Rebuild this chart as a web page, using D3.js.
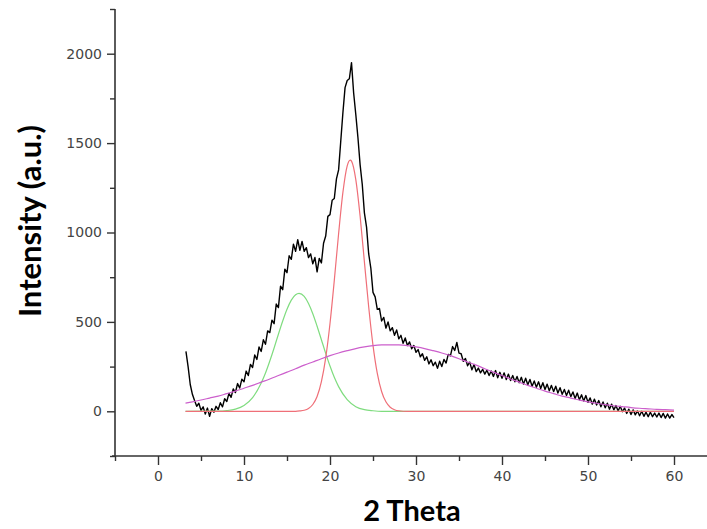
<!DOCTYPE html>
<html>
<head>
<meta charset="utf-8">
<script src="https://cdn.jsdelivr.net/npm/d3@7"></script>
<style>
  html, body { margin: 0; padding: 0; background: #fff; }
  svg { display: block; }
  .tick text { font-family: "DejaVu Sans", sans-serif; font-size: 14px; fill: #444; }
  .axis-title { font-family: Lato, "Open Sans", sans-serif; font-weight: bold; fill: #000; }
</style>
</head>
<body>
<div id="chart"></div>
<script>
/**
 * Constants
 */
const width = 707, height = 529;

// measured 2-theta grid of the pattern
const twoThetaStart = 3.25, twoThetaStep = 0.25;

// raw intensity (0.25 deg steps, noise included)
const intensity = [
  335, 250, 150, 95,   60, 28, 45, 5,   25, -15, 18, -28,   15, -5, 28, 10,
  48, 25, 70, 55,   100, 78, 125, 105,   155, 130, 180, 165,   225, 200, 262, 245,
  315, 290, 360, 335,   400, 375, 450, 440,   510, 490, 600, 580,   700, 680, 795, 775,
  870, 850, 935, 895,   960, 900, 950, 895,   915, 860, 880, 825,   860, 780, 855, 830,
  940, 980, 1090, 1100,   1180, 1190, 1300, 1350,   1510, 1670, 1810, 1850,
  1860, 1950, 1780, 1660,   1530, 1380, 1270, 1110,   1030, 880, 800, 665,
  640, 570, 575, 505,   525, 465, 500, 450,   468, 425, 455, 405,   425, 380, 410, 368,
  388, 350, 368, 330,   345, 305, 322, 285,   305, 265, 288, 255,   275, 240, 280, 250,
  290, 270, 318, 310,   362, 340, 385, 325,   322, 280, 295, 255,   275, 232, 262, 222,
  242, 215, 235, 208,   230, 200, 225, 195,   228, 188, 218, 185,   215, 178, 208, 172,
  200, 165, 195, 160,   190, 152, 185, 148,   178, 140, 170, 135,   165, 128, 160, 122,
  152, 115, 145, 110,   140, 102, 132, 95,   122, 88, 118, 82,   108, 72, 102, 65,
  92, 58, 88, 50,   75, 40, 68, 35,   60, 25, 52, 20,   45, 12, 40, 8,
  32, 2, 28, -2,   18, -12, 12, -18,   8, -20, 2, -25,   0, -28, -5, -30,
  -5, -30, -10, -32,   -10, -35, -12, -38,   -15, -38, -18, -35
];

// fitted peak 1 (green)
const greenX = [3.2, 7, 8, 9, 10, 11, 12, 12.5, 13, 13.5, 14, 14.5, 15, 15.5, 16, 16.4,
  17, 17.5, 18, 18.5, 19, 19.5, 20, 20.5, 21, 22, 23, 24, 25, 26, 60];
const greenY = [0, 1, 4, 12, 32, 76, 158, 214, 281, 354, 431, 505, 571, 622, 652, 660,
  643, 603, 546, 476, 400, 324, 253, 190, 138, 65, 26, 9, 3, 0, 0];

// fitted peak 2 (red)
const redX = [3.2, 16, 16.5, 17, 17.5, 18, 18.5, 19, 19.5, 20, 20.5, 21, 21.5, 22, 22.35,
  22.5, 23, 23.5, 24, 24.5, 25, 25.5, 26, 26.5, 27, 27.5, 28, 29, 60];
const redY = [0, 0, 2, 6, 16, 38, 83, 166, 299, 491, 732, 993, 1224, 1373, 1405,
  1399, 1296, 1092, 836, 583, 369, 212, 111, 53, 23, 9, 3, 0, 0];

// fitted amorphous halo (magenta)
const haloX = [3.2, 4, 5, 6, 7, 8, 9, 10, 11, 12, 13, 14, 15, 16, 17, 18, 19, 20, 21, 22,
  23, 24, 25, 26, 27, 28, 29, 30, 31, 32, 33, 34, 35, 36, 37, 38, 39, 40, 41, 42,
  43, 44, 45, 46, 47, 48, 49, 50, 51, 52, 53, 54, 55, 56, 57, 58, 59, 60];
const haloY = [46, 53, 63, 74, 85, 99, 113, 129, 145, 163, 181, 200, 219, 238, 258, 276, 294, 311, 326, 339,
  351, 360, 367, 371, 372, 371, 367, 360, 351, 339, 326, 311, 294, 276, 258, 238, 219, 200, 181, 163,
  145, 129, 113, 99, 85, 74, 63, 53, 45, 37, 31, 26, 21, 17, 14, 11, 9, 7];

// axis ticks
const xTicks = [0, 10, 20, 30, 40, 50, 60];
const xMinorTicks = [-5, 5, 15, 25, 35, 45, 55, 65];
const yTicks = [0, 500, 1000, 1500, 2000];
const yMinorTicks = [-250, 250, 750, 1250, 1750, 2250];

const pattern = intensity.map((v, i) => ({ x: twoThetaStart + i * twoThetaStep, y: v }));
const zipXY = (xs, ys) => xs.map((x, i) => ({ x: x, y: ys[i] }));

/**
 * Scales
 */
const xScale = d3.scaleLinear().domain([-5, 65]).range([115, 717]);
const yScale = d3.scaleLinear().domain([-250, 2250]).range([456, 9]);

const svg = d3.select("#chart")
  .append("svg")
  .attr("width", width)
  .attr("height", height);

// curves
const rawLine = d3.line()
  .x(d => xScale(d.x))
  .y(d => yScale(d.y))
  .curve(d3.curveLinear);

const fitLine = d3.line()
  .x(d => xScale(d.x))
  .y(d => yScale(d.y))
  .curve(d3.curveMonotoneX);

svg.append("path")
  .datum(pattern)
  .attr("fill", "none")
  .attr("stroke", "#000")
  .attr("stroke-width", 1.4)
  .attr("stroke-linejoin", "round")
  .attr("d", rawLine);

svg.append("path")
  .datum(zipXY(greenX, greenY))
  .attr("fill", "none")
  .attr("stroke", "#7fdc7f")
  .attr("stroke-width", 1.2)
  .attr("d", fitLine);

svg.append("path")
  .datum(zipXY(redX, redY))
  .attr("fill", "none")
  .attr("stroke", "#ef6f78")
  .attr("stroke-width", 1.2)
  .attr("d", fitLine);

svg.append("path")
  .datum(zipXY(haloX, haloY))
  .attr("fill", "none")
  .attr("stroke", "#cc5fcc")
  .attr("stroke-width", 1.2)
  .attr("d", fitLine);

// AXES
const styleAxis = g => {
  g.select(".domain").remove();
  g.selectAll(".tick line").attr("stroke", "#333").attr("stroke-width", 1.4);
};

svg.append("g")
  .attr("class", "axis x-axis")
  .attr("transform", `translate(0,${yScale(-250)})`)
  .call(d3.axisBottom(xScale).tickValues(xTicks).tickSize(9).tickPadding(6).tickFormat(d3.format("d")))
  .call(styleAxis);

svg.append("g")
  .attr("class", "axis x-minor")
  .attr("transform", `translate(0,${yScale(-250)})`)
  .call(d3.axisBottom(xScale).tickValues(xMinorTicks).tickSize(5).tickFormat(""))
  .call(styleAxis);

svg.append("g")
  .attr("class", "axis y-axis")
  .attr("transform", `translate(${xScale(-5)},0)`)
  .call(d3.axisLeft(yScale).tickValues(yTicks).tickSize(8).tickPadding(5).tickFormat(d3.format("d")))
  .call(styleAxis);

svg.append("g")
  .attr("class", "axis y-minor")
  .attr("transform", `translate(${xScale(-5)},0)`)
  .call(d3.axisLeft(yScale).tickValues(yMinorTicks).tickSize(5).tickFormat(""))
  .call(styleAxis);

// axis lines
svg.append("line")
  .attr("x1", xScale(-5)).attr("x2", xScale(-5))
  .attr("y1", yScale(2250)).attr("y2", yScale(-250))
  .attr("stroke", "#333").attr("stroke-width", 1.6);

svg.append("line")
  .attr("x1", xScale(-5) - 3).attr("x2", width)
  .attr("y1", yScale(-250)).attr("y2", yScale(-250))
  .attr("stroke", "#333").attr("stroke-width", 1.6);

// titles
svg.append("text")
  .attr("class", "axis-title")
  .attr("x", 412)
  .attr("y", 521)
  .attr("text-anchor", "middle")
  .style("font-size", "29px")
  .text("2 Theta");

svg.append("text")
  .attr("class", "axis-title")
  .attr("transform", "translate(41,221) rotate(-90)")
  .attr("text-anchor", "middle")
  .style("font-size", "31px")
  .text("Intensity (a.u.)");
</script>
</body>
</html>
